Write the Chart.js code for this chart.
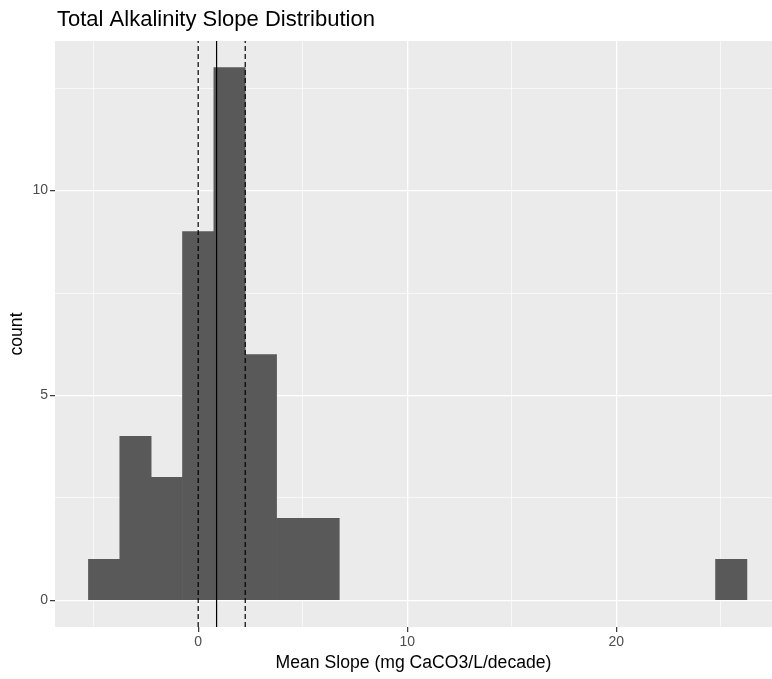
<!DOCTYPE html>
<html>
<head>
<meta charset="utf-8">
<script src="https://cdn.jsdelivr.net/npm/chart.js@4"></script>
<style>
  html, body { margin: 0; padding: 0; background: #ffffff; }
  #wrap { position: relative; width: 772px; height: 679px; }
</style>
</head>
<body>
<div id="wrap"><canvas id="histChart" width="772" height="679"></canvas></div>
<script>
// histogram bins (width 1.5), centres and counts
const binCenters = [-4.5, -3, -1.5, 0, 1.5, 3, 4.5, 6, 7.5, 9, 10.5, 12, 13.5, 15, 16.5, 18, 19.5, 21, 22.5, 24, 25.5];
const binCounts  = [1, 4, 3, 9, 13, 6, 2, 2, 0, 0, 0, 0, 0, 0, 0, 0, 0, 0, 0, 0, 1];

// reference lines
const dashedLines = [0, 2.25];
const solidLine = 0.88;

// axis ticks
const xTicks = [-5, 0, 5, 10, 15, 20, 25];
const xLabels = [0, 10, 20];
const yTicks = [0, 2.5, 5, 7.5, 10, 12.5];
const yLabels = [0, 5, 10];

const xMin = -6.85, xMax = 27.45;
const yMin = -0.65, yMax = 13.65;

const titleText = 'Total Alkalinity Slope Distribution';

const ctx = document.getElementById('histChart').getContext('2d');

const isMajor = (c, list) => !!(c && c.tick && list.includes(c.tick.value));

// grey panel + plot title
const panelPlugin = {
    id: 'panel',
    beforeDraw(chart) {
        const a = chart.chartArea;
        const c = chart.ctx;
        c.save();
        c.fillStyle = '#ebebeb';
        c.fillRect(a.left, a.top, a.right - a.left, a.bottom - a.top);
        c.restore();
    },
    afterDraw(chart) {
        const c = chart.ctx;
        c.save();
        c.fillStyle = '#000000';
        c.font = '22px "Liberation Sans", Arial, sans-serif';
        c.textBaseline = 'middle';
        c.textAlign = 'left';
        c.fillText(titleText, chart.chartArea.left + 2, 20);
        c.restore();
    }
};

const vline = (x, dash) => ({
    type: 'line',
    data: [{ x: x, y: yMin }, { x: x, y: yMax }],
    borderColor: '#000000',
    borderWidth: 1.2,
    borderDash: dash,
    pointRadius: 0,
    fill: false,
    order: 0
});

const chart = new Chart(ctx, {
    data: {
        datasets: [
            {
                type: 'bar',
                // empty bins are left undrawn, as in the reference
                data: binCenters.map((x, i) => ({ x: x, y: binCounts[i] || null })),
                backgroundColor: '#595959',
                borderWidth: 0,
                barPercentage: 1.0,
                categoryPercentage: 1.0,
                order: 1
            },
            ...dashedLines.map(x => vline(x, [5, 3])),
            vline(solidLine, [])
        ]
    },
    options: {
        responsive: false,
        animation: false,
        layout: { padding: { top: 41, right: 0, left: 0, bottom: 0 } },
        plugins: {
            legend: { display: false },
            tooltip: { enabled: false },
            title: { display: false }
        },
        scales: {
            x: {
                type: 'linear',
                min: xMin,
                max: xMax,
                offset: false,
                afterBuildTicks: s => { s.ticks = xTicks.map(v => ({ value: v })); },
                afterFit: s => { s.height = 52; },
                border: { display: false },
                grid: {
                    offset: false,
                    color: '#ffffff',
                    lineWidth: c => isMajor(c, xLabels) ? 1.3 : 0.65,
                    tickLength: 5,
                    tickColor: c => isMajor(c, xLabels) ? '#333333' : 'rgba(0,0,0,0)',
                    tickWidth: 1.2
                },
                ticks: {
                    autoSkip: false,
                    maxRotation: 0,
                    padding: 2,
                    color: '#4d4d4d',
                    font: { family: '"Liberation Sans", Arial, sans-serif', size: 14 },
                    callback: v => xLabels.includes(v) ? String(v) : ''
                },
                title: {
                    display: true,
                    text: 'Mean Slope (mg CaCO3/L/decade)',
                    color: '#000000',
                    font: { family: '"Liberation Sans", Arial, sans-serif', size: 17.6 },
                    padding: { top: 0, bottom: 5 }
                }
            },
            y: {
                type: 'linear',
                min: yMin,
                max: yMax,
                afterBuildTicks: s => { s.ticks = yTicks.map(v => ({ value: v })); },
                afterFit: s => { s.width = 55; },
                border: { display: false },
                grid: {
                    color: '#ffffff',
                    lineWidth: c => isMajor(c, yLabels) ? 1.3 : 0.65,
                    tickLength: 5,
                    tickColor: c => isMajor(c, yLabels) ? '#333333' : 'rgba(0,0,0,0)',
                    tickWidth: 1.2
                },
                ticks: {
                    autoSkip: false,
                    padding: 2,
                    color: '#4d4d4d',
                    font: { family: '"Liberation Sans", Arial, sans-serif', size: 14 },
                    callback: v => yLabels.includes(v) ? String(v) : ''
                },
                title: {
                    display: true,
                    text: 'count',
                    color: '#000000',
                    font: { family: '"Liberation Sans", Arial, sans-serif', size: 17.6 },
                    padding: { top: 7, bottom: 0 }
                }
            }
        }
    },
    plugins: [panelPlugin]
});
</script>
</body>
</html>
